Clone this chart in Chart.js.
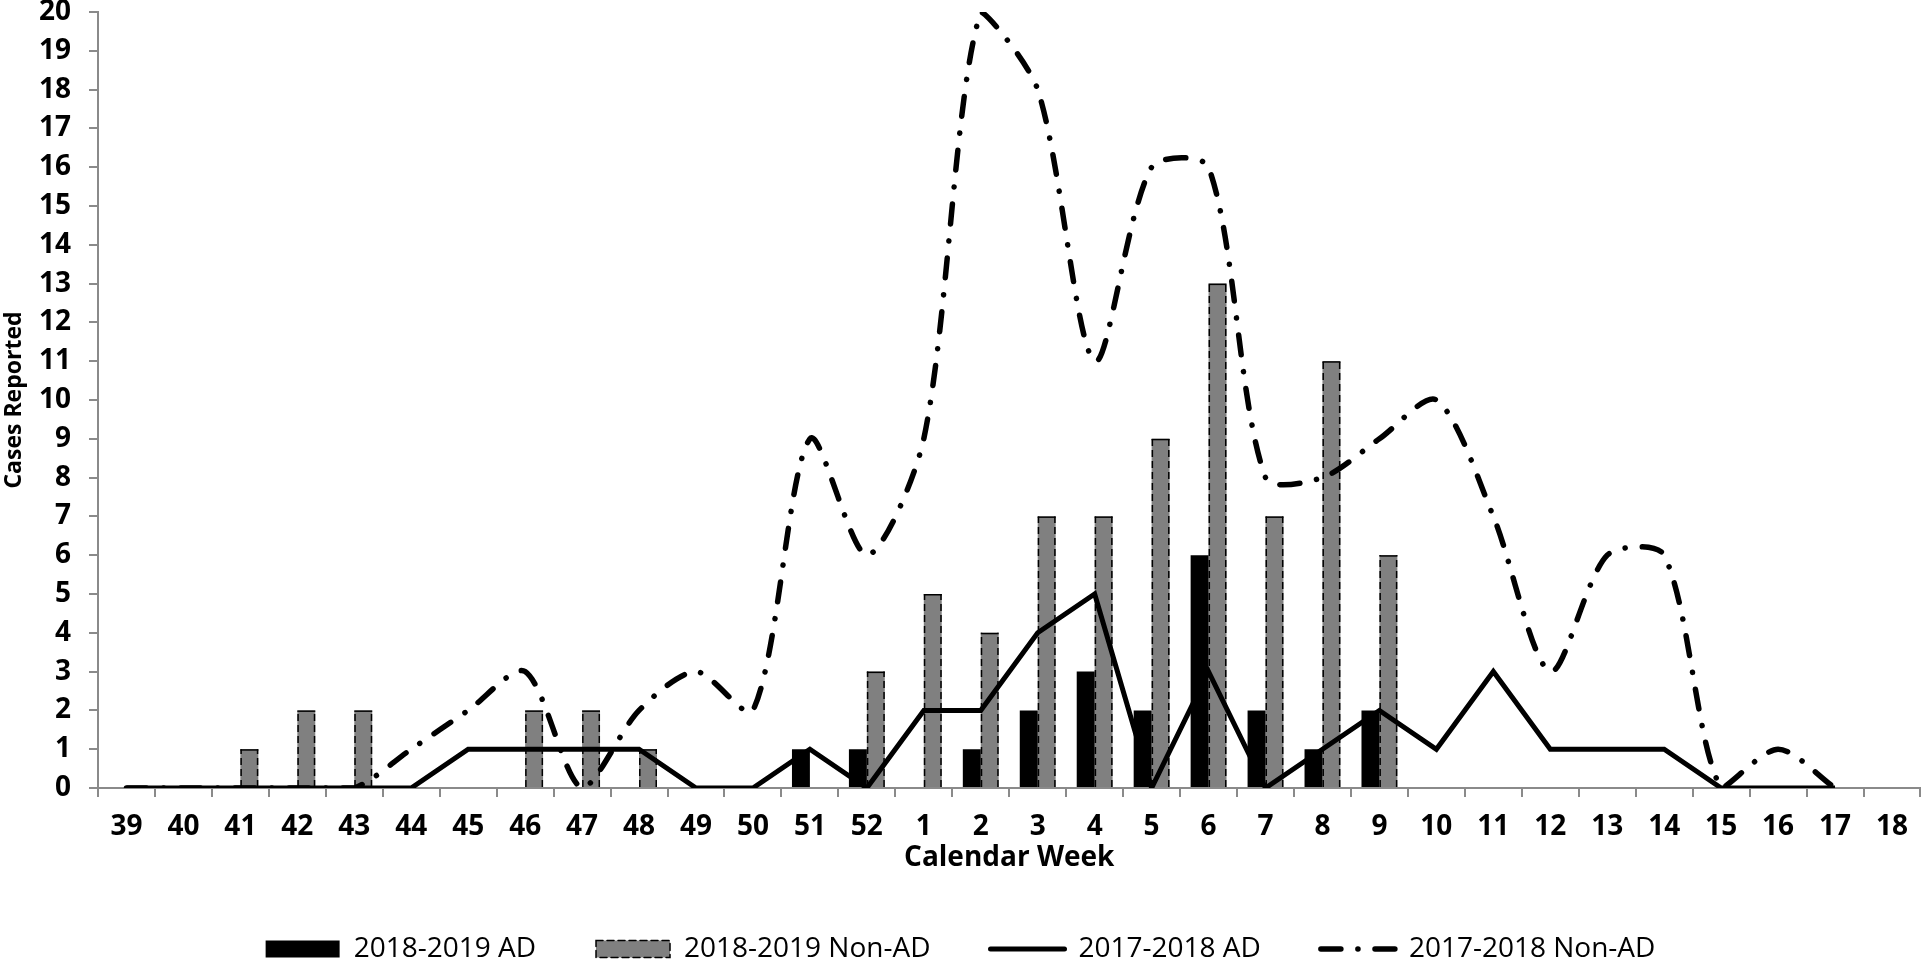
<!DOCTYPE html>
<html>
<head>
<meta charset="utf-8">
<script src="https://cdn.jsdelivr.net/npm/chart.js@4.4.1/dist/chart.umd.min.js"></script>
<style>
  html, body { margin: 0; padding: 0; background: #fff; overflow: hidden; }
</style>
</head>
<body>
<canvas id="chart" width="1921" height="967"></canvas>
<script>
// calendar weeks, 2017/2018 and 2018/2019 seasons
const weeks = ['39', '40', '41', '42', '43', '44', '45', '46', '47', '48', '49', '50', '51', '52',
    '1', '2', '3', '4', '5', '6', '7', '8', '9', '10', '11', '12', '13', '14', '15', '16', '17', '18'];

const ad1819 = [0, 0, 0, 0, 0, 0, 0, 0, 0, 0, 0, 0, 1, 1,
    0, 1, 2, 3, 2, 6, 2, 1, 2, null, null, null, null, null, null, null, null, null];

const nonAd1819 = [0, 0, 1, 2, 2, 0, 0, 2, 2, 1, 0, 0, 0, 3,
    5, 4, 7, 7, 9, 13, 7, 11, 6, null, null, null, null, null, null, null, null, null];

const ad1718 = [0, 0, 0, 0, 0, 0, 1, 1, 1, 1, 0, 0, 1, 0,
    2, 2, 4, 5, 0, 3, 0, 1, 2, 1, 3, 1, 1, 1, 0, 0, 0, null];

const nonAd1718 = [0, 0, 0, 0, 0, 1, 2, 3, 0, 2, 3, 2, 9, 6,
    9, 20, 18, 11, 16, 16, 8, 8, 9, 10, 7, 3, 6, 6, 0, 1, 0, null];

const FONT = "'Open Sans', 'Liberation Sans', sans-serif";
const DASH_DOT = [20, 17, 0.1, 17];

// grey bars get a dashed black outline, chart.js bars can't dash their border
const dashedBars = {
    id: 'dashedBars',
    afterDatasetDraw(chart, args) {
        const ds = chart.data.datasets[args.index];
        if (!ds.dashedBorder) return;
        const ctx = chart.ctx;
        ctx.save();
        ctx.strokeStyle = '#000';
        ctx.lineWidth = 1.5;
        args.meta.data.forEach((bar, i) => {
            if (!ds.data[i]) return;
            const {x, y, base, width} = bar.getProps(['x', 'y', 'base', 'width'], true);
            const l = x - width / 2 + 0.75;
            const r = x + width / 2 - 0.75;
            ctx.setLineDash([7, 4]);
            ctx.beginPath();
            ctx.moveTo(l, base);
            ctx.lineTo(l, y);
            ctx.moveTo(r, base);
            ctx.lineTo(r, y);
            ctx.stroke();
            ctx.setLineDash([]);
            ctx.beginPath();
            ctx.moveTo(l - 0.75, y + 0.75);
            ctx.lineTo(r + 0.75, y + 0.75);
            ctx.stroke();
        });
        ctx.restore();
    }
};

const axisGrey = '#8a8a8a';

new Chart(document.getElementById('chart'), {
    type: 'bar',
    data: {
        labels: weeks,
        datasets: [
            {
                label: '2018-2019 AD',
                data: ad1819,
                backgroundColor: '#000000',
                borderWidth: 0,
                barPercentage: 1,
                categoryPercentage: 0.63,
                order: 2,
                legendPointStyle: 'rect',
                legendLineWidth: 0,
                legendDash: [],
            },
            {
                label: '2018-2019 Non-AD',
                data: nonAd1819,
                backgroundColor: '#808080',
                borderWidth: 0,
                barPercentage: 1,
                categoryPercentage: 0.63,
                order: 2,
                dashedBorder: true,
                legendPointStyle: 'rect',
                legendLineWidth: 1.5,
                legendDash: [7, 4],
            },
            {
                type: 'line',
                label: '2017-2018 AD',
                data: ad1718,
                borderColor: '#000000',
                backgroundColor: '#000000',
                borderWidth: 5,
                pointRadius: 0,
                tension: 0,
                fill: false,
                order: 1,
                legendPointStyle: 'line',
                legendLineWidth: 5,
                legendDash: [],
            },
            {
                type: 'line',
                label: '2017-2018 Non-AD',
                data: nonAd1718,
                borderColor: '#000000',
                backgroundColor: '#000000',
                borderWidth: 5.5,
                borderDash: DASH_DOT,
                borderCapStyle: 'round',
                pointRadius: 0,
                tension: 0.28,
                fill: false,
                order: 1,
                legendPointStyle: 'line',
                legendLineWidth: 5.5,
                legendDash: DASH_DOT,
            },
        ],
    },
    options: {
        responsive: false,
        animation: false,
        devicePixelRatio: 1,
        layout: {
            padding: {top: 0, right: 0, left: 0, bottom: -6},
        },
        plugins: {
            tooltip: {enabled: false},
            legend: {
                position: 'bottom',
                labels: {
                    usePointStyle: true,
                    pointStyleWidth: 74,
                    boxHeight: 17,
                    padding: 60,
                    color: '#000',
                    font: {family: FONT, size: 28},
                    generateLabels: (chart) => chart.data.datasets.map((ds, i) => ({
                        text: ds.label,
                        datasetIndex: i,
                        fillStyle: ds.backgroundColor,
                        strokeStyle: '#000',
                        lineWidth: ds.legendLineWidth,
                        lineDash: ds.legendDash,
                        lineCap: 'round',
                        pointStyle: ds.legendPointStyle,
                        hidden: false,
                    })),
                },
            },
        },
        scales: {
            x: {
                afterFit: (scale) => { scale.height = 87; },
                ticks: {
                    autoSkip: false,
                    maxRotation: 0,
                    padding: 13,
                    color: '#000',
                    font: {family: FONT, size: 28, weight: 'bold'},
                },
                grid: {
                    drawOnChartArea: false,
                    offset: true,
                    tickLength: 9,
                    color: axisGrey,
                    lineWidth: 2,
                },
                border: {color: axisGrey, width: 2},
                title: {
                    display: true,
                    text: 'Calendar Week',
                    color: '#000',
                    font: {family: FONT, size: 28, weight: 'bold'},
                    padding: {top: 0, bottom: 0},
                },
            },
            y: {
                min: 0,
                max: 20,
                afterFit: (scale) => {
                    scale.width = 98;
                    scale.paddingTop = 12;
                },
                ticks: {
                    stepSize: 1,
                    padding: 18,
                    color: '#000',
                    font: {family: FONT, size: 28, weight: 'bold'},
                },
                grid: {
                    drawOnChartArea: false,
                    tickLength: 9,
                    color: axisGrey,
                    lineWidth: 2,
                },
                border: {color: axisGrey, width: 2},
                title: {
                    display: true,
                    text: 'Cases Reported',
                    color: '#000',
                    font: {family: FONT, size: 23, weight: 'bold'},
                    padding: {top: 1, bottom: 0},
                },
            },
        },
    },
    plugins: [dashedBars],
});
</script>
</body>
</html>
